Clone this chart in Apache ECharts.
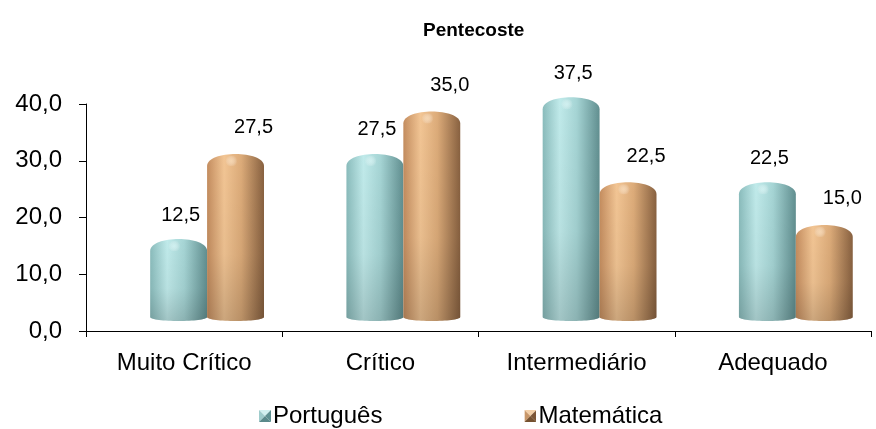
<!DOCTYPE html>
<html>
<head>
<meta charset="utf-8">
<script src="https://cdn.jsdelivr.net/npm/echarts@6/dist/echarts.min.js"></script>
<style>
  html, body { margin: 0; padding: 0; background: #fff; }
  #chart { width: 876px; height: 429px; }
</style>
</head>
<body>
<div id="chart"></div>
<script>
// Data
const categories = ['Muito Crítico', 'Crítico', 'Intermediário', 'Adequado'];
const portugues = [12.5, 27.5, 37.5, 22.5];
const matematica = [27.5, 35.0, 22.5, 15.0];
const seriesNames = ['Português', 'Matemática'];
const yTicks = { min: 0, max: 40, interval: 10 };

const FONT = "'Liberation Sans', Arial, sans-serif";

// Cylinder palettes: [left edge, highlight, middle, right edge]
const palettes = [
  { side: ['#8abcbc', '#c0eaea', '#a5d4d4', '#618f90'], capHi: '#d9f6f6' },
  { side: ['#c48d5f', '#f2c594', '#dcab79', '#886140'], capHi: '#fbe0bf' }
];

// Label placement relative to the cylinder top, per series
const labelShift = [[2, -24], [18, -26]];

function fmt(v) { return v.toFixed(1).replace('.', ','); }

function sideGradient(pal) {
  return new echarts.graphic.LinearGradient(0, 0, 1, 0, [
    { offset: 0, color: pal.side[0] },
    { offset: 0.3, color: pal.side[1] },
    { offset: 0.6, color: pal.side[2] },
    { offset: 1, color: pal.side[3] }
  ]);
}

function cylinder(params, api) {
  const si = params.seriesIndex;
  const ci = api.value(0), v = api.value(1);
  const p = api.coord([ci, v]);
  const p0 = api.coord([ci, 0]);
  const band = api.size([1, 0])[0];
  const bw = band * 0.29;
  const shift = band * 0.117;
  const L = si === 0 ? p[0] + shift - bw : p[0] + shift;
  const R = L + bw;
  const cx = (L + R) / 2;
  const top = p[1] - 21;
  const bottom = p0[1] - 10;
  const capY = top + 12;
  const baseY = bottom - 4;
  const pal = palettes[si];

  const body = 'M' + L + ' ' + capY +
    ' C' + L + ' ' + (top - 4) + ' ' + R + ' ' + (top - 4) + ' ' + R + ' ' + capY +
    ' L' + R + ' ' + baseY +
    ' C' + R + ' ' + (bottom + 1.3) + ' ' + L + ' ' + (bottom + 1.3) + ' ' + L + ' ' + baseY + ' Z';

  return {
    type: 'group',
    children: [
      { type: 'path', shape: { pathData: body }, style: { fill: sideGradient(pal) } },
      // darker toward the base
      { type: 'path', shape: { pathData: body },
        style: { fill: new echarts.graphic.LinearGradient(0, 0, 0, 1, [
          { offset: 0, color: 'rgba(0,0,0,0)' },
          { offset: 0.6, color: 'rgba(0,0,0,0.04)' },
          { offset: 1, color: 'rgba(0,0,0,0.16)' }
        ]) } },
      // top face sheen
      { type: 'ellipse', shape: { cx: cx - 2, cy: top + 7, rx: bw / 2 - 6, ry: 5 },
        style: { fill: new echarts.graphic.RadialGradient(0.45, 0.5, 0.6, [
          { offset: 0, color: pal.capHi },
          { offset: 1, color: 'rgba(255,255,255,0)' }
        ]), opacity: 0.7 } },
      { type: 'text',
        style: { text: fmt(v), x: cx + labelShift[si][0], y: top + labelShift[si][1],
          align: 'center', verticalAlign: 'middle', font: '20px ' + FONT, fill: '#000' } }
    ]
  };
}

function pyramidIcon(c) {
  const svg = "<svg xmlns='http://www.w3.org/2000/svg' width='12' height='12'>" +
    "<polygon points='0,0 12,0 6,6' fill='" + c[0] + "'/>" +
    "<polygon points='0,0 0,12 6,6' fill='" + c[1] + "'/>" +
    "<polygon points='12,0 12,12 6,6' fill='" + c[2] + "'/>" +
    "<polygon points='0,12 12,12 6,6' fill='" + c[3] + "'/></svg>";
  return 'image://data:image/svg+xml;charset=utf-8,' + encodeURIComponent(svg);
}

const chart = echarts.init(document.getElementById('chart'), null, { renderer: 'canvas' });

chart.setOption({
  animation: false,
  backgroundColor: '#fff',
  title: {
    text: 'Pentecoste', left: 418, top: 16,
    textStyle: { fontFamily: FONT, fontSize: 19, fontWeight: 'bold', color: '#000' }
  },
  legend: {
    left: 254, top: 399, itemWidth: 12, itemHeight: 12, itemGap: 142,
    textStyle: { fontFamily: FONT, fontSize: 24, color: '#000', padding: [0, 0, 0, -3] },
    data: [
      { name: seriesNames[0], icon: pyramidIcon(['#d2f0f0', '#9fcccc', '#5f9192', '#5a8a8b']) },
      { name: seriesNames[1], icon: pyramidIcon(['#f4d0a8', '#c89668', '#7d5636', '#75512f']) }
    ]
  },
  grid: { left: 86, right: 5, top: 104, bottom: 98 },
  xAxis: {
    type: 'category', data: categories, boundaryGap: true,
    axisLine: { lineStyle: { color: '#000', width: 1 } },
    axisTick: { show: true, length: 6, inside: false, lineStyle: { color: '#000' } },
    axisLabel: { fontFamily: FONT, fontSize: 24, color: '#000', margin: 20 },
    splitLine: { show: false }
  },
  yAxis: {
    type: 'value', min: yTicks.min, max: yTicks.max, interval: yTicks.interval,
    axisLine: { show: true, lineStyle: { color: '#000', width: 1 } },
    axisTick: { show: true, length: 7, lineStyle: { color: '#000' } },
    axisLabel: { fontFamily: FONT, fontSize: 24, color: '#000', margin: 24, formatter: fmt },
    splitLine: { show: false }
  },
  series: [
    { name: seriesNames[0], type: 'custom', renderItem: cylinder,
      itemStyle: { color: palettes[0].side[2] },
      encode: { x: 0, y: 1 },
      data: portugues.map((v, i) => [i, v]) },
    { name: seriesNames[1], type: 'custom', renderItem: cylinder,
      itemStyle: { color: palettes[1].side[2] },
      encode: { x: 0, y: 1 },
      data: matematica.map((v, i) => [i, v]) }
  ]
});
</script>
</body>
</html>
